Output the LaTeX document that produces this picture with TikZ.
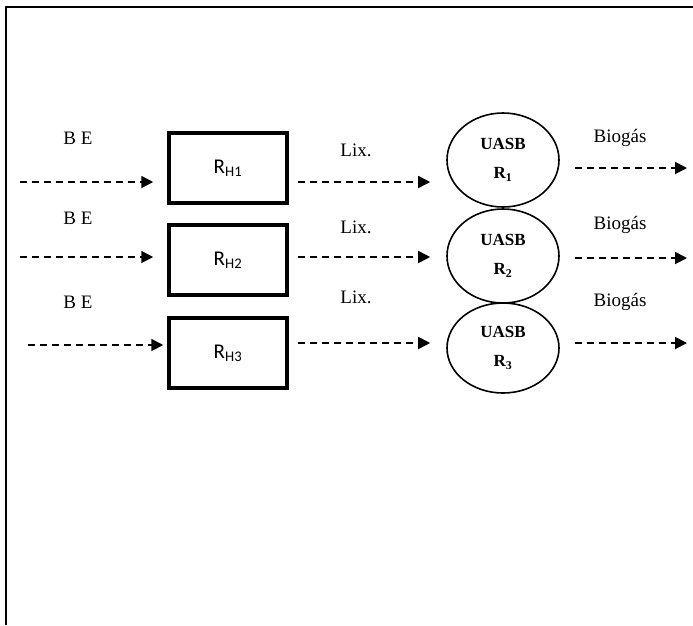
\documentclass[tikz,border=0pt]{standalone}
\usepackage{fontspec}
\setmainfont{Liberation Serif}
\newfontfamily\rhfont{Carlito}
\usetikzlibrary{arrows.meta,shapes.geometric}
\tikzset{
  % Reaktorlar
  reactorbox/.style = {draw, line width=3.5pt, minimum width=118pt, minimum height=70pt,
                       inner sep=0pt, font=\rhfont\fontsize{21}{24}\selectfont},
  uasbell/.style    = {ellipse, draw, line width=1.6pt, minimum width=112pt,
                       minimum height=94pt, inner sep=0pt, align=center,
                       font=\bfseries\fontsize{17}{29}\selectfont},
  % Oqimlar
  flowarrow/.style  = {line width=1.8pt, dash pattern=on 7pt off 5pt,
                       -{Triangle[length=12pt,width=12pt]}},
  lab/.style        = {inner sep=1pt, font=\fontsize{19}{22}\selectfont},
}
\begin{document}
\begin{tikzpicture}[x=1pt,y=-1pt]
  \useasboundingbox (0,0) rectangle (693,625);
  % Ramka
  \draw[line width=1.5pt] (693,7) -- (6,7) -- (6,625);
  % Reaktorlar
  \node[reactorbox] (rh1) at (228,168) {R\textsubscript{H1}};
  \node[reactorbox] (rh2) at (228,260) {R\textsubscript{H2}};
  \node[reactorbox] (rh3) at (228,353) {R\textsubscript{H3}};
  \node[uasbell] (u1) at (503,160) {UASB\\R\textsubscript{1}};
  \node[uasbell] (u2) at (503,256) {UASB\\R\textsubscript{2}};
  \node[uasbell, minimum height=90pt] (u3) at (503,348) {UASB\\R\textsubscript{3}};
  % Kirish va chiqish nuqtalari
  \coordinate (in1) at (20,182);
  \coordinate (in2) at (20,257);
  \coordinate (in3) at (28,345);
  \coordinate (out1) at (687,168);
  \coordinate (out2) at (687,258);
  \coordinate (out3) at (687,343);
  % Oqimlar
  \draw[flowarrow] (in1) -- ([xshift=-14pt]rh1.west |- in1);
  \draw[flowarrow] (in2) -- ([xshift=-14pt]rh2.west |- in2);
  \draw[flowarrow] (in3) -- ([xshift=-4pt]rh3.west |- in3);
  \draw[flowarrow] ([xshift=9pt]rh1.east |- in1) -- ([xshift=-16pt]u1.west |- in1);
  \draw[flowarrow] ([xshift=9pt]rh2.east |- in2) -- ([xshift=-16pt]u2.west |- in2);
  \draw[flowarrow] ([xshift=9pt]rh3.east |- out3) -- ([xshift=-16pt]u3.west |- out3);
  \draw[flowarrow] ([xshift=15pt]u1.east |- out1) -- (out1);
  \draw[flowarrow] ([xshift=15pt]u2.east |- out2) -- (out2);
  \draw[flowarrow] ([xshift=15pt]u3.east |- out3) -- (out3);
  % Etiketlar
  \node[lab] (be1) at (78,138) {B E};
  \node[lab] (be2) at (78,218) {B E};
  \node[lab] (be3) at (78,302) {B E};
  \node[lab] (lix1) at (356,150) {Lix.};
  \node[lab] (lix2) at (356,227) {Lix.};
  \node[lab] (lix3) at (356,297) {Lix.};
  \node[lab] (bio1) at (620,138) {Biogás};
  \node[lab] (bio2) at (620,225) {Biogás};
  \node[lab] (bio3) at (620,302) {Biogás};
\end{tikzpicture}
\end{document}
